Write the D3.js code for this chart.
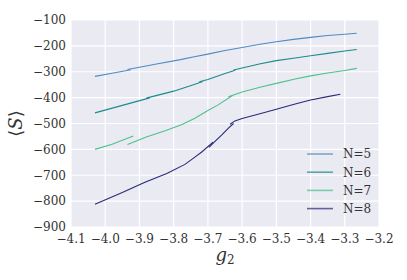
<!DOCTYPE html>
<html>
<head>
<meta charset="utf-8">
<script src="https://cdn.jsdelivr.net/npm/d3@7"></script>
<style>
  body { margin: 0; background: #fff; }
</style>
</head>
<body>
<svg id="chart" width="407" height="280" font-family="'DejaVu Serif', serif"></svg>
<script>
// data: each series is a list of segments, each segment a list of [g2, <S>]
var labels = ["N=5", "N=6", "N=7", "N=8"];
var colors = ["#4f8ac6", "#1c8a8e", "#4cc28a", "#29297a"];

var n5 = [
  [[-4.03, -318], [-3.98, -306], [-3.925, -292]],
  [[-3.935, -291], [-3.85, -270], [-3.78, -253], [-3.74, -242], [-3.70, -232], [-3.65, -218],
   [-3.60, -206], [-3.548, -194], [-3.50, -184], [-3.45, -175], [-3.40, -167], [-3.35, -160],
   [-3.30, -155], [-3.265, -151]]
];
var n6 = [
  [[-4.03, -459], [-3.95, -430], [-3.87, -401]],
  [[-3.88, -402], [-3.80, -375], [-3.74, -349], [-3.715, -338]],
  [[-3.725, -339], [-3.70, -330], [-3.65, -307], [-3.62, -294]],
  [[-3.625, -293], [-3.55, -270], [-3.50, -257], [-3.445, -247], [-3.40, -238], [-3.35, -229],
   [-3.30, -220], [-3.265, -214]]
];
var n7 = [
  [[-4.03, -600], [-3.98, -580], [-3.918, -548]],
  [[-3.935, -581], [-3.88, -552], [-3.825, -528], [-3.777, -505], [-3.738, -480], [-3.70, -450],
   [-3.67, -428], [-3.628, -392]],
  [[-3.64, -397], [-3.60, -378], [-3.548, -360], [-3.50, -345], [-3.445, -328], [-3.40, -316],
   [-3.35, -305], [-3.30, -295], [-3.265, -287]]
];
var n8 = [
  [[-4.03, -812], [-3.95, -767], [-3.884, -727], [-3.82, -693], [-3.767, -658], [-3.738, -630],
   [-3.718, -610], [-3.685, -572]],
  [[-3.697, -592], [-3.68, -570], [-3.66, -545], [-3.64, -518], [-3.625, -500]],
  [[-3.635, -503], [-3.621, -490], [-3.60, -481], [-3.548, -462], [-3.50, -445], [-3.445, -425],
   [-3.40, -409], [-3.35, -396], [-3.313, -387]]
];
var series = [n5, n6, n7, n8];

var xTicks = [-4.1, -4.0, -3.9, -3.8, -3.7, -3.6, -3.5, -3.4, -3.3, -3.2];
var yTicks = [-100, -200, -300, -400, -500, -600, -700, -800, -900];

var margin = {top: 20, left: 71, right: 28, bottom: 53};
var width = 407, height = 280;
var chartWidth = width - margin.left - margin.right;
var chartHeight = height - margin.top - margin.bottom;

var svg = d3.select("#chart");
var g = svg.append("g").attr("transform", "translate(" + [margin.left, margin.top] + ")");

var x = d3.scaleLinear().domain([-4.1, -3.2]).range([0, chartWidth]);
var y = d3.scaleLinear().domain([-900, -100]).range([chartHeight, 0]);

g.append("rect")
  .attr("width", chartWidth).attr("height", chartHeight)
  .attr("fill", "#eaeaf2");

// grid
g.selectAll(".gx").data(xTicks).enter().append("line")
  .attr("x1", d => x(d)).attr("x2", d => x(d))
  .attr("y1", 0).attr("y2", chartHeight)
  .attr("stroke", "#fff").attr("stroke-width", 1.2);
g.selectAll(".gy").data(yTicks).enter().append("line")
  .attr("y1", d => y(d)).attr("y2", d => y(d))
  .attr("x1", 0).attr("x2", chartWidth)
  .attr("stroke", "#fff").attr("stroke-width", 1.2);

function fmt(v, digits) {
  return (v < 0 ? "\u2212" : "") + Math.abs(v).toFixed(digits);
}

// tick labels
g.selectAll(".xl").data(xTicks).enter().append("text")
  .attr("x", d => x(d)).attr("y", chartHeight + 16)
  .style("font-size", "12px").style("font-family", "'DejaVu Serif', serif")
  .attr("text-anchor", "middle").attr("fill", "#333")
  .text(d => fmt(d, 1));
g.selectAll(".yl").data(yTicks).enter().append("text")
  .attr("x", -5).attr("y", d => y(d) + 4.3)
  .style("font-size", "12px").style("font-family", "'DejaVu Serif', serif")
  .attr("text-anchor", "end").attr("fill", "#333")
  .text(d => fmt(d, 0));

// curves
var line = d3.line().x(d => x(d[0])).y(d => y(d[1]));
series.forEach(function (segs, i) {
  g.append("g").selectAll("path").data(segs).enter().append("path")
    .attr("d", line)
    .attr("fill", "none")
    .attr("stroke", colors[i])
    .attr("stroke-width", 1.1);
});

// legend
var legend = g.append("g").attr("transform", "translate(" + [236, 134] + ")");
labels.forEach(function (lab, i) {
  legend.append("line")
    .attr("x1", 0).attr("x2", 26)
    .attr("y1", i * 18.2).attr("y2", i * 18.2)
    .attr("stroke", colors[i]).attr("stroke-width", 1.6).attr("opacity", 0.7);
  legend.append("text")
    .attr("x", 36).attr("y", i * 18.2 + 4.3)
    .style("font-size", "12px").style("font-family", "'DejaVu Serif', serif")
    .attr("fill", "#333")
    .text(lab);
});

// axis labels
svg.append("text")
  .attr("x", margin.left + chartWidth / 2).attr("y", 261)
  .style("font-size", "18px").style("font-family", "'DejaVu Serif', serif")
  .attr("text-anchor", "middle").attr("font-style", "italic").attr("fill", "#333")
  .text("g")
  .append("tspan").attr("font-style", "normal").style("font-size", "12px").attr("dy", 3).text("2");

svg.append("text")
  .attr("transform", "translate(22," + (margin.top + chartHeight / 2) + ") rotate(-90)")
  .style("font-size", "18px").style("font-family", "'DejaVu Serif', serif")
  .attr("text-anchor", "middle").attr("fill", "#333")
  .html("\u27E8<tspan font-style='italic'>S</tspan>\u27E9");
</script>
</body>
</html>
